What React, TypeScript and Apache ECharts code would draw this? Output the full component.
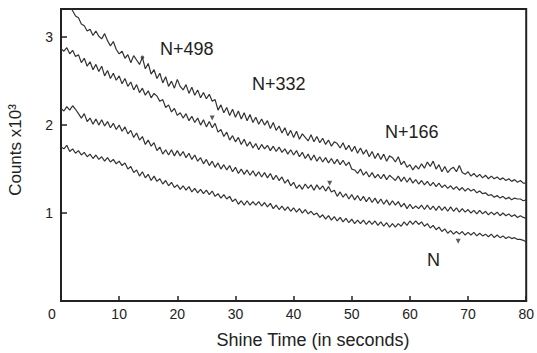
import React, { useEffect, useRef } from "react";
import * as echarts from "echarts";

// Shine time sampling step (seconds)
const STEP = 0.5;

// Counts (x10^3), one value every 0.5 s from 0 to 80 s
const seriesN498 = [
  3.45, 3.41, 3.37, 3.35, 3.30, 3.24, 3.22, 3.15, 3.13, 3.07,
  3.09, 3.02, 3.07, 3.01, 2.98, 3.04, 2.96, 2.90, 2.95, 2.86,
  2.81, 2.84, 2.76, 2.80, 2.71, 2.79, 2.74, 2.69, 2.77, 2.64,
  2.70, 2.58, 2.63, 2.53, 2.59, 2.48, 2.55, 2.44, 2.50, 2.42,
  2.52, 2.44, 2.40, 2.46, 2.36, 2.43, 2.34, 2.40, 2.31, 2.37,
  2.30, 2.35, 2.27, 2.29, 2.17, 2.23, 2.14, 2.20, 2.11, 2.18,
  2.09, 2.16, 2.07, 2.14, 2.05, 2.12, 2.03, 2.09, 2.01, 2.07,
  2.00, 2.05, 1.96, 2.03, 1.94, 1.99, 1.91, 1.97, 1.88, 1.94,
  1.86, 1.93, 1.84, 1.90, 1.86, 1.82, 1.89, 1.81, 1.87, 1.80,
  1.85, 1.78, 1.83, 1.76, 1.81, 1.79, 1.74, 1.80, 1.72, 1.77,
  1.70, 1.76, 1.68, 1.74, 1.67, 1.72, 1.64, 1.70, 1.62, 1.68,
  1.61, 1.67, 1.59, 1.65, 1.63, 1.58, 1.64, 1.55, 1.59, 1.52,
  1.55, 1.49, 1.54, 1.50, 1.56, 1.51, 1.58, 1.53, 1.59, 1.50,
  1.55, 1.47, 1.53, 1.46, 1.50, 1.52, 1.47, 1.54, 1.46, 1.44,
  1.47, 1.42, 1.45, 1.41, 1.44, 1.40, 1.43, 1.39, 1.42, 1.39,
  1.41, 1.38, 1.40, 1.37, 1.39, 1.36, 1.38, 1.35, 1.37, 1.34,
  1.34,
];

const seriesN332 = [
  2.87, 2.84, 2.88, 2.81, 2.85, 2.78, 2.80, 2.71, 2.76, 2.67,
  2.72, 2.63, 2.69, 2.61, 2.67, 2.56, 2.62, 2.53, 2.59, 2.51,
  2.56, 2.47, 2.53, 2.44, 2.49, 2.40, 2.46, 2.37, 2.42, 2.34,
  2.39, 2.31, 2.36, 2.33, 2.27, 2.29, 2.20, 2.23, 2.15, 2.19,
  2.11, 2.14, 2.08, 2.13, 2.05, 2.10, 2.03, 2.08, 2.00, 2.06,
  1.98, 2.04, 1.97, 2.02, 1.92, 1.95, 1.87, 1.92, 1.83, 1.88,
  1.81, 1.86, 1.78, 1.84, 1.76, 1.81, 1.74, 1.79, 1.72, 1.78,
  1.73, 1.77, 1.71, 1.76, 1.70, 1.75, 1.69, 1.73, 1.67, 1.72,
  1.66, 1.71, 1.64, 1.69, 1.62, 1.67, 1.60, 1.66, 1.59, 1.64,
  1.58, 1.63, 1.57, 1.62, 1.56, 1.61, 1.55, 1.60, 1.54, 1.58,
  1.50, 1.49, 1.45, 1.50, 1.43, 1.47, 1.41, 1.46, 1.40, 1.44,
  1.39, 1.44, 1.38, 1.43, 1.40, 1.37, 1.42, 1.36, 1.41, 1.35,
  1.40, 1.34, 1.38, 1.33, 1.37, 1.32, 1.36, 1.31, 1.35, 1.30,
  1.34, 1.29, 1.32, 1.28, 1.31, 1.27, 1.30, 1.26, 1.29, 1.25,
  1.28, 1.25, 1.27, 1.23, 1.25, 1.22, 1.23, 1.20, 1.21, 1.18,
  1.20, 1.17, 1.19, 1.16, 1.18, 1.15, 1.17, 1.16, 1.16, 1.14,
  1.15,
];

const seriesN166 = [
  2.19, 2.16, 2.21, 2.17, 2.22, 2.18, 2.13, 2.08, 2.13, 2.04,
  2.08, 2.01, 2.07, 2.00, 2.06, 1.99, 2.04, 1.97, 2.02, 1.95,
  2.00, 1.93, 1.98, 1.90, 1.94, 1.86, 1.91, 1.83, 1.87, 1.78,
  1.83, 1.76, 1.80, 1.71, 1.75, 1.67, 1.72, 1.66, 1.72, 1.65,
  1.71, 1.65, 1.70, 1.63, 1.68, 1.61, 1.66, 1.59, 1.63, 1.56,
  1.61, 1.54, 1.59, 1.52, 1.57, 1.50, 1.55, 1.49, 1.54, 1.47,
  1.52, 1.45, 1.50, 1.44, 1.49, 1.43, 1.48, 1.42, 1.47, 1.41,
  1.46, 1.40, 1.45, 1.38, 1.43, 1.37, 1.41, 1.34, 1.38, 1.31,
  1.35, 1.28, 1.32, 1.27, 1.33, 1.28, 1.32, 1.26, 1.32, 1.27,
  1.31, 1.25, 1.30, 1.24, 1.26, 1.19, 1.24, 1.18, 1.22, 1.16,
  1.21, 1.15, 1.20, 1.14, 1.19, 1.13, 1.18, 1.12, 1.17, 1.11,
  1.16, 1.10, 1.15, 1.09, 1.14, 1.09, 1.13, 1.07, 1.11, 1.05,
  1.10, 1.05, 1.08, 1.05, 1.09, 1.04, 1.09, 1.04, 1.08, 1.03,
  1.08, 1.03, 1.07, 1.02, 1.07, 1.02, 1.06, 1.01, 1.05, 1.01,
  1.04, 1.00, 1.03, 0.99, 1.03, 0.99, 1.02, 0.98, 1.01, 0.98,
  1.01, 0.97, 1.00, 0.97, 0.99, 0.96, 0.98, 0.95, 0.97, 0.95,
  0.94,
];

const seriesN = [
  1.75, 1.73, 1.77, 1.70, 1.73, 1.68, 1.71, 1.66, 1.69, 1.64,
  1.67, 1.62, 1.66, 1.61, 1.64, 1.59, 1.63, 1.58, 1.61, 1.56,
  1.59, 1.54, 1.57, 1.50, 1.53, 1.46, 1.49, 1.42, 1.47, 1.40,
  1.44, 1.37, 1.42, 1.36, 1.39, 1.33, 1.37, 1.31, 1.35, 1.29,
  1.32, 1.27, 1.31, 1.26, 1.30, 1.24, 1.28, 1.23, 1.27, 1.22,
  1.26, 1.21, 1.25, 1.19, 1.22, 1.17, 1.21, 1.16, 1.19, 1.13,
  1.16, 1.10, 1.14, 1.09, 1.14, 1.09, 1.13, 1.09, 1.13, 1.08,
  1.12, 1.07, 1.11, 1.05, 1.09, 1.04, 1.08, 1.03, 1.07, 1.02,
  1.06, 1.01, 1.05, 1.00, 1.04, 0.99, 1.02, 0.98, 1.00, 0.95,
  0.98, 0.93, 0.97, 0.92, 0.96, 0.91, 0.95, 0.90, 0.94, 0.89,
  0.93, 0.88, 0.92, 0.88, 0.92, 0.87, 0.91, 0.87, 0.91, 0.86,
  0.90, 0.85, 0.89, 0.84, 0.88, 0.84, 0.88, 0.85, 0.90, 0.86,
  0.91, 0.87, 0.91, 0.87, 0.90, 0.85, 0.88, 0.83, 0.86, 0.81,
  0.84, 0.79, 0.82, 0.77, 0.80, 0.76, 0.79, 0.76, 0.79, 0.75,
  0.78, 0.75, 0.78, 0.74, 0.77, 0.74, 0.76, 0.73, 0.76, 0.72,
  0.75, 0.72, 0.74, 0.71, 0.73, 0.71, 0.72, 0.70, 0.70, 0.69,
  0.67,
];

// Small printed marks scattered near the curves [seconds, counts]
const markTriangles = [
  [26, 2.08],
  [46.2, 1.34],
  [68.3, 0.68],
];
const markDots = [[14, 2.77]];

// Curve labels and axis text
const curveLabels = [
  { text: "N+498", x: 160, y: 49 },
  { text: "N+332", x: 252, y: 84 },
  { text: "N+166", x: 385, y: 132 },
  { text: "N", x: 427, y: 260 },
];
const xTitle = "Shine Time (in seconds)";
const yTitle = "Counts x10³";

const FONT = "'Liberation Sans', Arial, Helvetica, sans-serif";
const INK = "#222";

export default function App() {
  const ref = useRef<HTMLDivElement>(null);

  useEffect(() => {
    if (!ref.current) return;
    const chart = echarts.init(ref.current, undefined, { renderer: "svg" });
    const toPairs = (vals: number[]) => vals.map((v, i) => [i * STEP, v]);
    const lineSeries = [seriesN498, seriesN332, seriesN166, seriesN].map((vals, k) => ({
      type: "line",
      name: ["N+498", "N+332", "N+166", "N"][k],
      data: toPairs(vals),
      symbol: "none",
      clip: true,
      lineStyle: { color: "#333", width: 1.2 },
      silent: true,
    }));

    chart.setOption({
      animation: false,
      backgroundColor: "#fff",
      grid: {
        left: 61,
        right: 9,
        top: 9,
        bottom: 52,
        show: true,
        borderColor: INK,
        borderWidth: 2,
        backgroundColor: "transparent",
      },
      xAxis: {
        type: "value",
        min: 0,
        max: 80,
        interval: 10,
        axisLine: { show: true, lineStyle: { color: INK, width: 2 } },
        axisTick: { show: true, inside: true, length: 5, lineStyle: { color: INK, width: 1.5 } },
        splitLine: { show: false },
        axisLabel: {
          margin: 6,
          fontSize: 14,
          fontFamily: FONT,
          color: INK,
          formatter: (v: number) => (v === 0 ? "{z|0}" : String(v)),
          rich: { z: { fontSize: 14, fontFamily: FONT, color: INK, padding: [0, 18, 0, 0] } },
        },
      },
      yAxis: {
        type: "value",
        min: 0,
        max: 3.32,
        interval: 1,
        axisLine: { show: true, lineStyle: { color: INK, width: 2 } },
        axisTick: { show: true, inside: true, length: 6, lineStyle: { color: INK, width: 1.5 } },
        splitLine: { show: false },
        axisLabel: {
          margin: 8,
          fontSize: 14,
          fontFamily: FONT,
          color: INK,
          formatter: (v: number) => (v === 1 || v === 2 || v === 3 ? String(v) : ""),
        },
      },
      series: [
        ...lineSeries,
        {
          type: "scatter",
          data: markTriangles,
          symbol: "triangle",
          symbolRotate: 180,
          symbolSize: 5,
          itemStyle: { color: "#333" },
          silent: true,
        },
        {
          type: "scatter",
          data: markDots,
          symbol: "circle",
          symbolSize: 3.5,
          itemStyle: { color: "#333" },
          silent: true,
        },
      ],
      graphic: [
        ...curveLabels.map((l) => ({
          type: "text",
          x: l.x,
          y: l.y,
          silent: true,
          style: {
            text: l.text,
            fontSize: 18,
            fontFamily: FONT,
            fill: INK,
            align: "left",
            verticalAlign: "middle",
          },
        })),
        {
          type: "text",
          x: 313,
          y: 340,
          silent: true,
          style: {
            text: xTitle,
            fontSize: 18,
            fontFamily: FONT,
            fill: INK,
            align: "center",
            verticalAlign: "middle",
          },
        },
        {
          type: "text",
          x: 15,
          y: 150,
          rotation: Math.PI / 2,
          silent: true,
          style: {
            text: yTitle,
            fontSize: 17,
            fontFamily: FONT,
            fill: INK,
            align: "center",
            verticalAlign: "middle",
          },
        },
      ],
    });
    return () => chart.dispose();
  }, []);

  return (
    <div
      ref={ref}
      style={{ position: "absolute", left: 0, top: 0, width: 537, height: 353, background: "#fff" }}
    />
  );
}
